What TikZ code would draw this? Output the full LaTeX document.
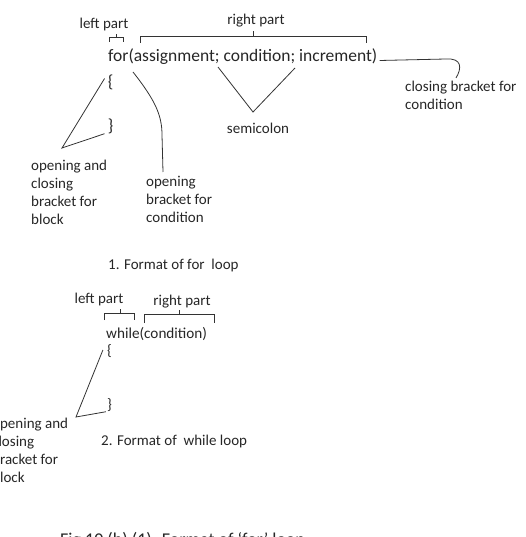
\documentclass[tikz,border=0pt]{standalone}
\usepackage{fontspec}
\setmainfont{Carlito}
\usetikzlibrary{positioning}

\begin{document}
\begin{tikzpicture}[x=1pt, y=-1pt,
    every node/.style={inner sep=0pt, text=black!85},
    lbl/.style={font=\fontsize{15}{18}\selectfont, align=left},
    code/.style={font=\fontsize{17.5}{21}\selectfont},
    wcode/.style={font=\fontsize{15.2}{18}\selectfont},
    ln/.style={draw=black!80, line width=0.8pt}]
  \useasboundingbox (0,0) rectangle (525,537);

  % format of for loop
  \node[code, anchor=base west] (forline) at (108,62) {for(assignment; condition; increment)};
  \node[lbl] (leftA) at (104,25) {left part};
  \node[lbl] (rightA) at (256,21) {right part};
  \node[code] (obraceA) at (110.5,82.5) {\{};
  \node[code] (cbraceA) at (110.5,126) {\}};
  \node[lbl, anchor=north west] (blockA) at (31,160) {opening and\\closing\\bracket for\\block};
  \node[lbl, anchor=north west] (obcondA) at (146,176) {opening\\bracket for\\condition};
  \node[lbl] (semiA) at (258,128) {semicolon};
  \node[lbl, anchor=north west] (cbcondA) at (405,81) {closing bracket for\\condition};
  \node[lbl, anchor=west] (formatA) at (108,265) {1. Format of for\ \ loop};
  \coordinate (blktipA) at (62,148);
  \coordinate (parenA) at (133,72);
  \coordinate (semi1) at (218,67);
  \coordinate (semi2) at (295,68);
  \coordinate (semitipA) at (253,112);

  \draw[ln] (109,42) -- (109,37) -- (123,37) -- (123,42) (116,37) -- (116,34);
  \draw[ln] (140,43) -- (140,36) -- (366,36) -- (366,43) (253,36) -- (253,31);
  \draw[ln] ([shift={(-3,-4)}]obraceA.west) -- (blktipA) -- ([xshift=-3pt]cbraceA.south west);
  \draw[ln] (parenA) .. controls (155,100) and (162,115) .. (162,135) -- ([xshift=17pt,yshift=4pt]obcondA.north west);
  \draw[ln] (semi1) -- (semitipA) -- (semi2);
  \draw[ln] ([shift={(2,-1.5)}]forline.base east) -- (446,59) .. controls (462,58) and (462,68) .. ([xshift=51pt,yshift=3pt]cbcondA.north west);

  % format of while loop
  \node[wcode, anchor=base west] (whileB) at (106,338) {while(condition)};
  \node[lbl] (leftB) at (99,299) {left part};
  \node[lbl] (rightB) at (182,302) {right part};
  \node[wcode] (obraceB) at (109.5,351) {\{};
  \node[wcode] (cbraceB) at (109.5,405) {\}};
  \node[lbl, anchor=north west] (blockB) at (-8,418) {opening and\\closing\\bracket for\\block};
  \node[lbl, anchor=west] (formatB) at (101,441) {2. Format of\ \ while loop};
  \coordinate (blktipB) at (76,417);

  \draw[ln] (104,320) -- (104,313) -- (134,313) -- (134,320) (120,313) -- (120,309);
  \draw[ln] (144,323) -- (144,314) -- (214,314) -- (214,323) (179,314) -- (179,310);
  \draw[ln] ([shift={(-4,-1)}]obraceB.west) -- (blktipB) -- ([xshift=-1pt]cbraceB.south west);

  % caption
  \node[font=\fontsize{18}{22}\selectfont, anchor=base west] (caption) at (60,545) {Fig 10 (b) (1). Format of ‘for’ loop};
\end{tikzpicture}
\end{document}
